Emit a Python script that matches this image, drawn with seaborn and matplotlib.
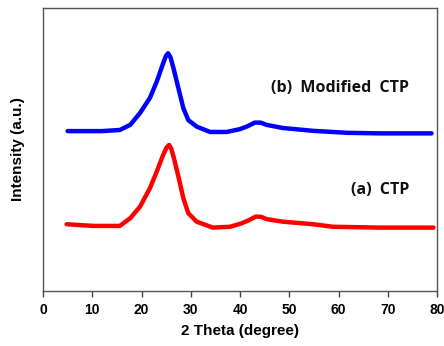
import pandas as pd
import matplotlib
matplotlib.use("Agg")
import matplotlib.pyplot as plt
import seaborn as sns

# XRD patterns (arbitrary intensity units)
theta_b = [5.0, 8.0, 12.0, 15.6, 17.7, 19.7, 21.7, 23.1, 24.4, 25.0, 25.4, 25.9,
           26.5, 27.5, 28.5, 29.5, 31.2, 33.9, 37.3, 40.0, 41.5, 43.0, 44.2, 45.4,
           48.7, 54.8, 61.7, 68.4, 78.9]
inten_b = [565, 565, 565, 569, 587, 629, 682, 740, 805, 832, 840, 825,
           787, 716, 646, 604, 581, 562, 562, 572, 582, 595, 595, 587,
           576, 566, 559, 557, 557]

theta_a = [4.8, 10.2, 15.6, 17.7, 19.7, 21.7, 23.1, 24.4, 25.1, 25.6, 26.0,
           26.5, 27.5, 28.5, 29.5, 31.2, 34.5, 38.0, 40.3, 41.8, 43.2, 44.3, 45.4,
           48.7, 54.8, 58.9, 68.4, 79.3]
inten_a = [236, 230, 230, 257, 298, 363, 422, 481, 507, 516, 505,
           475, 404, 328, 275, 245, 224, 227, 239, 250, 263, 262, 254,
           245, 236, 227, 224, 224]

xticks = [0, 10, 20, 30, 40, 50, 60, 70, 80]

df_b = pd.DataFrame({"theta": theta_b, "intensity": inten_b})
df_a = pd.DataFrame({"theta": theta_a, "intensity": inten_a})

sns.set_theme(style="white")
plt.rcParams['font.family'] = ['Liberation Sans', 'DejaVu Sans']

fig = plt.figure(figsize=(4.44, 3.46), dpi=100)
ax = fig.add_axes([43 / 444, 55 / 346, 394 / 444, 283 / 346])

sns.lineplot(data=df_b, x="theta", y="intensity", color="#0000ff", linewidth=3.2,
             solid_joinstyle="round", ax=ax)
sns.lineplot(data=df_a, x="theta", y="intensity", color="#ff0000", linewidth=3.2,
             solid_joinstyle="round", ax=ax)

ax.set_xlim(0, 80)
ax.set_ylim(0, 1000)
ax.set_xticks(xticks)
ax.set_xticklabels([str(t) for t in xticks], fontweight="bold", fontsize=10,
                   color="black")
ax.set_yticks([])
ax.tick_params(axis="x", direction="out", length=4, width=1, color="#444444",
               pad=5, bottom=True)
for sp in ax.spines.values():
    sp.set_color("#555555")
    sp.set_linewidth(1.0)

ax.set_xlabel("2 Theta (degree)", fontsize=11, fontweight="bold", labelpad=5,
              color="black")
ax.set_ylabel("Intensity (a.u.)", fontsize=11, fontweight="bold", labelpad=13,
              color="black")

ax.text(74.3, 717, "(b)  Modified  CTP", ha="right", va="center", fontsize=11.5,
        fontweight="bold", color="#111111", family=["Open Sans", "DejaVu Sans"])
ax.text(74.3, 357, "(a)  CTP", ha="right", va="center", fontsize=11.5,
        fontweight="bold", color="#111111", family=["Open Sans", "DejaVu Sans"])

fig.savefig("out.png", dpi=100)
